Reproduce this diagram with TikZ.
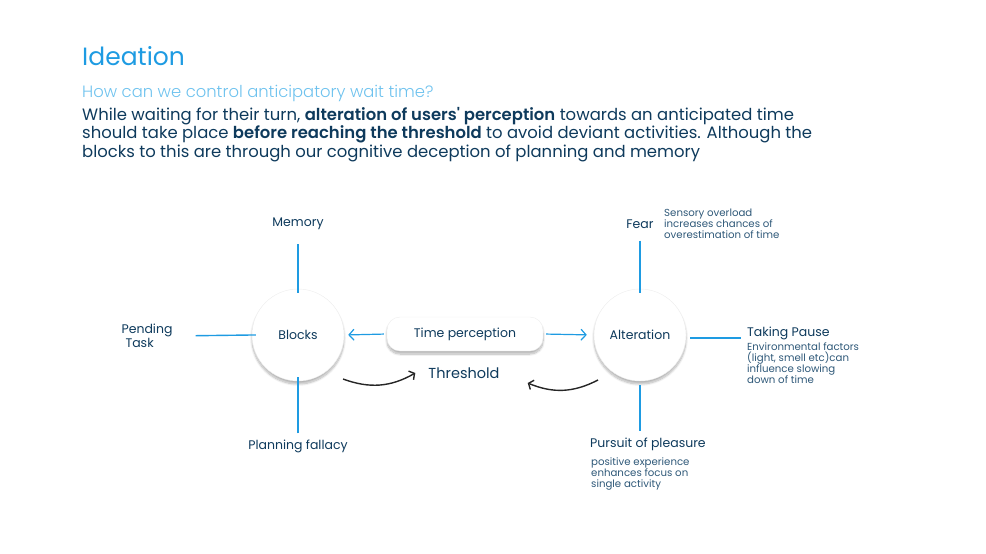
\documentclass[tikz,border=0pt]{standalone}
\usepackage{fontspec}
\setmainfont{Poppins}[Ligatures=TeXOff,BoldFont={Poppins SemiBold}]
\newfontfamily\lightfont{Poppins Light}[Ligatures=TeXOff]
\usetikzlibrary{arrows.meta,shadows.blur}
\definecolor{navy}{HTML}{0E3A5C}
\definecolor{softnavy}{HTML}{2E5878}
\definecolor{lineblue}{HTML}{1E9BE2}
\definecolor{skyblue}{HTML}{6EC2EE}
\tikzset{
	bubble/.style={circle,fill=white,draw=black!7,minimum size=92pt,inner sep=0pt,
		blur shadow={shadow xshift=0pt,shadow yshift=-3pt,shadow opacity=30,shadow blur steps=10},
		font=\fontsize{12.5}{14}\selectfont,text=navy},
	pill/.style={rectangle,rounded corners=13pt,fill=white,draw=black!7,minimum width=156pt,minimum height=34pt,
		blur shadow={shadow xshift=0pt,shadow yshift=-3pt,shadow opacity=30,shadow blur steps=10},
		font=\fontsize{12.5}{14}\selectfont,text=navy},
	label/.style={inner sep=0pt,font=\fontsize{12.5}{14}\selectfont,text=navy},
	note/.style={inner sep=0pt,align=left,font=\fontsize{10.2}{11}\selectfont,text=softnavy},
	spoke/.style={draw=lineblue,line width=1.4pt},
	push/.style={draw=lineblue,line width=1.2pt,-{Straight Barb[length=5pt,width=11pt]}},
	swing/.style={draw=black!85,line width=1.4pt,-{Straight Barb[length=4pt,width=10pt]}}
}
\begin{document}
\begin{tikzpicture}[x=1pt,y=-1pt]
	\useasboundingbox (0,0) rectangle (986,554);
	\node[inner sep=0pt,anchor=base west,text=lineblue,font=\fontsize{25}{30}\selectfont] (title) at (82,65) {Ideation};
	\node[inner sep=0pt,anchor=base west,text=skyblue,font=\lightfont\fontsize{16.4}{18}\selectfont] (question) at (82,97) {How can we control anticipatory wait time?};
	\node[inner sep=0pt,anchor=north west,align=left,text=navy,font=\fontsize{16.45}{18.5}\selectfont] (intro) at (82,107)
		{While waiting for their turn, \textbf{alteration of users' perception} towards an anticipated time\\
		should take place \textbf{before reaching the threshold} to avoid deviant activities. Although the\\
		blocks to this are through our cognitive deception of planning and memory};

	\node[bubble] (blocks) at (298,335) {Blocks};
	\node[bubble] (alter) at (640,335) {Alteration};
	\node[pill] (timep) at (465,334) {Time perception};
	\node[label,font=\fontsize{14.5}{16}\selectfont] (thresh) at (464,373) {Threshold};

	\node[label] (memory) at (298,224) {Memory};
	\node[label] (planning) at (298,446) {Planning fallacy};
	\node[label,align=left] (pending) at (147,336) {Pending\\\hspace*{4pt}Task};
	\node[label] (fear) at (640,224) {Fear};
	\node[label,anchor=west] (pause) at (747,333) {Taking Pause};
	\node[label,anchor=west] (pursuit) at (590,444) {Pursuit of pleasure};

	\node[note,anchor=north west] (fearnote) at (664,209) {Sensory overload\\increases chances of\\overestimation of time};
	\node[note,anchor=north west] (pausenote) at (747,343) {Environmental factors\\(light, smell etc)can\\influence slowing\\down of time};
	\node[note,anchor=north west] (pursuitnote) at (591,458) {positive experience\\enhances focus on\\single activity};

	\draw[spoke,shorten <=14pt,shorten >=-4pt] (memory) -- (blocks);
	\draw[spoke,shorten <=6pt,shorten >=-4pt] (planning) -- (blocks);
	\draw[spoke,shorten <=23pt,shorten >=-4pt] (pending.east) -- (blocks.west);
	\draw[spoke,shorten <=12pt,shorten >=-4pt] (fear) -- (alter);
	\draw[spoke,shorten <=4pt,shorten >=6pt] ([yshift=-5pt]alter.east |- pause.west) -- ([yshift=-5pt]pause.west);
	\draw[spoke,shorten <=4pt,shorten >=6pt] (alter.south) -- (alter.south |- pursuit.north);

	\draw[push,shorten <=3pt,shorten >=4pt] (timep.west) -- (blocks.east);
	\draw[push,shorten <=3pt,shorten >=7pt] (timep.east) -- (alter.west);

	\draw[swing] ([shift={(45,44)}]blocks.center) to[bend right=25] ([xshift=-13pt]thresh.west);
	\draw[swing] ([shift={(-42,45)}]alter.center) to[bend left=25] ([xshift=28pt,yshift=-10pt]thresh.east);
\end{tikzpicture}
\end{document}
